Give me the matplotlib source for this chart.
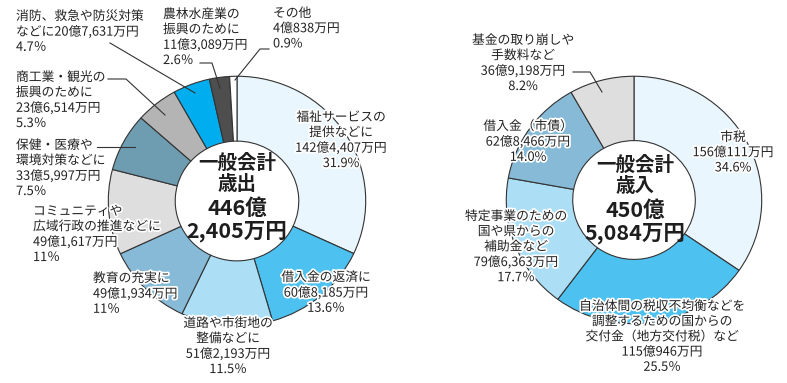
import matplotlib.pyplot as plt
from matplotlib import patheffects

plt.rcParams['font.family'] = ['Noto Sans CJK JP', 'DejaVu Sans']

W, H = 787, 383

# 歳出 (万円)
out_values = [1424407, 608185, 512193, 491934, 491617, 335997, 236514, 207631, 113089, 40838]
out_colors = ['#eaf6fd', '#4dc1ef', '#acdff6', '#86bad6', '#dedede',
              '#6e9db2', '#b4b4b4', '#00aeef', '#4e4e4e', '#ffffff']
out_labels = [
    '福祉サービスの\n提供などに\n142億4,407万円\n31.9%',
    '借入金の返済に\n60億8,185万円\n13.6％',
    '道路や市街地の\n整備などに\n51億2,193万円\n11.5％',
    '教育の充実に\n49億1,934万円\n11％',
    'コミュニティや\n広域行政の推進などに\n49億1,617万円\n11％',
    '保健・医療や\n環境対策などに\n33億5,997万円\n7.5％',
    '商工業・観光の\n振興のために\n23億6,514万円\n5.3％',
    '消防、救急や防災対策\nなどに20億7,631万円\n4.7％',
    '農林水産業の\n振興のために\n11億3,089万円\n2.6％',
    'その他\n4億838万円\n0.9%',
]
out_center = ['一般会計', '歳出', '446億', '2,405万円']

# 歳入 (万円)
in_values = [1560111, 1150946, 796363, 628466, 369198]
in_colors = ['#eaf6fd', '#4dc1ef', '#acdff6', '#86bad6', '#dedede']
in_labels = [
    '市税\n156億111万円\n34.6%',
    '自治体間の税収不均衡などを\n調整するための国からの\n交付金（地方交付税）など\n115億946万円\n25.5％',
    '特定事業のための\n国や県からの\n補助金など\n79億6,363万円\n17.7％',
    '借入金（市債）\n62億8,466万円\n14.0%',
    '基金の取り崩しや\n手数料など\n36億9,198万円\n8.2%',
]
in_center = ['一般会計', '歳入', '450億', '5,084万円']

fig = plt.figure(figsize=(W / 100, H / 100), dpi=100)


def donut(box, values, colors):
    # box = (left, top, right, bottom) in pixels
    l, t, r, b = box
    ax = fig.add_axes([l / W, (H - b) / H, (r - l) / W, (b - t) / H])
    ax.pie(values, colors=colors, startangle=90, counterclock=False, radius=1,
           wedgeprops=dict(width=0.52, edgecolor='#333333', linewidth=0.8))
    ax.set_aspect('auto')
    ax.set_xlim(-1.01, 1.01)
    ax.set_ylim(-1.01, 1.01)
    ax.axis('off')


donut((107, 75, 367, 327), out_values, out_colors)
donut((505, 75, 763, 325), in_values, in_colors)

# overlay in pixel coordinates for labels and leader lines
ov = fig.add_axes([0, 0, 1, 1])
ov.set_xlim(0, W)
ov.set_ylim(H, 0)
ov.axis('off')

halo = [patheffects.withStroke(linewidth=2.5, foreground='white')]


def label(x, y, s, ha='left'):
    ov.text(x, y, s, ha=ha, va='top', fontsize=9.2, color='#222222',
            linespacing=1.22, multialignment=ha, path_effects=halo)


# 歳出 labels
label(341, 111, out_labels[0], ha='center')
label(326, 271, out_labels[1], ha='center')
label(228, 317, out_labels[2], ha='center')
label(93, 272, out_labels[3])
label(33, 205, out_labels[4])
label(16, 139, out_labels[5])
label(16, 71, out_labels[6])
label(16, 10, out_labels[7])
label(163, 8, out_labels[8])
label(273, 7, out_labels[9])

# 歳入 labels
label(733, 131, in_labels[0], ha='center')
label(662, 300, in_labels[1], ha='center')
label(516, 210, in_labels[2], ha='center')
label(528, 120, in_labels[3], ha='center')
label(523, 34, in_labels[4], ha='center')

# leader lines
leaders = [
    [(97, 147), (135, 147)],
    [(108, 79), (126, 79), (165, 115)],
    [(110, 43), (195, 93)],
    [(200, 63), (212, 63), (220, 88)],
    [(269, 49), (260, 49), (235, 80)],
    [(573, 72), (590, 72), (602, 92)],
]
for pts in leaders:
    xs, ys = zip(*pts)
    ov.plot(xs, ys, color='#333333', linewidth=0.8)

# center titles
for cx, lines, ys in [(237, out_center, [163, 185, 208, 231]),
                      (635, in_center, [165, 187, 210, 233])]:
    for i, (s, y) in enumerate(zip(lines, ys)):
        ov.text(cx, y, s, ha='center', va='center', fontweight='bold',
                fontsize=14 if i < 2 else 15.5, color='#1e1e1e')

fig.savefig('out.png', dpi=100)
